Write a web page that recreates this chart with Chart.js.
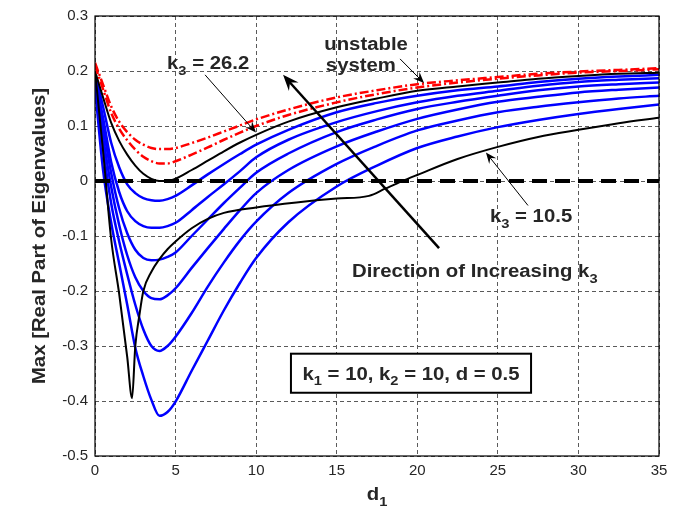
<!DOCTYPE html>
<html>
<head>
<meta charset="utf-8">
<script src="https://cdn.jsdelivr.net/npm/chart.js@4.4.0/dist/chart.umd.min.js"></script>
<style>
  html, body { margin: 0; padding: 0; background: #fff; }
  #wrap { width: 680px; height: 512px; }
</style>
</head>
<body>
<div id="wrap"><canvas id="c"></canvas></div>
<script>
// d1 sample points shared by the k3 sweep curves
const d1 = [0, 0.5, 1, 1.5, 2, 2.5, 3, 3.5, 4, 4.5, 5, 6, 7, 8, 9, 10, 12, 15, 17.5, 20, 22.5, 25, 27.5, 30, 32.5, 35];

// unstable system (red, dash-dot)
const unstableA = [0.215, 0.175, 0.136, 0.108, 0.089, 0.075, 0.066, 0.060, 0.058, 0.058, 0.060, 0.069, 0.079, 0.090, 0.101, 0.112, 0.130, 0.152, 0.165, 0.176, 0.183, 0.189, 0.195, 0.199, 0.202, 0.205];
const unstableB = [0.210, 0.167, 0.124, 0.095, 0.074, 0.057, 0.044, 0.036, 0.032, 0.032, 0.036, 0.048, 0.061, 0.075, 0.088, 0.100, 0.120, 0.143, 0.158, 0.170, 0.179, 0.186, 0.192, 0.197, 0.200, 0.203];

// k3 = 26.2 (black, marginal)
const k3High = [0.200, 0.152, 0.106, 0.073, 0.048, 0.028, 0.013, 0.004, 0.000, 0.000, 0.004, 0.020, 0.037, 0.054, 0.070, 0.084, 0.108, 0.134, 0.150, 0.164, 0.172, 0.179, 0.186, 0.191, 0.195, 0.197];

// intermediate k3 values (blue), top to bottom
const blue1 = [0.195, 0.135, 0.070, 0.025, -0.006, -0.022, -0.031, -0.035, -0.036, -0.033, -0.027, -0.008, 0.012, 0.031, 0.049, 0.066, 0.093, 0.125, 0.142, 0.155, 0.165, 0.172, 0.180, 0.186, 0.190, 0.193];
const blue2 = [0.190, 0.115, 0.035, -0.020, -0.055, -0.073, -0.082, -0.085, -0.085, -0.082, -0.076, -0.053, -0.029, -0.006, 0.018, 0.043, 0.075, 0.107, 0.127, 0.143, 0.155, 0.164, 0.173, 0.180, 0.184, 0.187];
const blue3 = [0.185, 0.100, 0.015, -0.050, -0.095, -0.125, -0.140, -0.144, -0.143, -0.138, -0.130, -0.100, -0.070, -0.040, -0.012, 0.015, 0.050, 0.089, 0.112, 0.131, 0.144, 0.155, 0.165, 0.172, 0.176, 0.179];
const blue4 = [0.180, 0.080, -0.010, -0.080, -0.135, -0.175, -0.200, -0.213, -0.215, -0.208, -0.195, -0.158, -0.122, -0.087, -0.053, -0.022, 0.020, 0.063, 0.090, 0.113, 0.130, 0.144, 0.153, 0.161, 0.166, 0.170];
const blue5 = [0.175, 0.060, -0.040, -0.110, -0.170, -0.225, -0.270, -0.300, -0.309, -0.300, -0.283, -0.240, -0.192, -0.148, -0.108, -0.074, -0.022, 0.031, 0.064, 0.092, 0.110, 0.125, 0.135, 0.143, 0.150, 0.155];
const blue6 = [0.170, 0.020, -0.075, -0.150, -0.225, -0.303, -0.355, -0.398, -0.427, -0.420, -0.401, -0.345, -0.290, -0.235, -0.185, -0.140, -0.075, -0.010, 0.028, 0.060, 0.081, 0.098, 0.111, 0.122, 0.131, 0.139];

// k3 = 10.5 (black), has its own d1 grid because of the sharp dip and the kink
const d1Low = [0, 0.5, 1, 1.5, 2, 2.3, 2.5, 2.75, 3, 3.5, 4, 4.5, 5, 6, 7, 8, 10, 12.5, 15, 17, 18, 19, 20, 22.5, 25, 27.5, 30, 32.5, 35];
const k3Low = [0.200, 0.055, -0.105, -0.205, -0.320, -0.395, -0.300, -0.245, -0.200, -0.165, -0.142, -0.124, -0.110, -0.086, -0.069, -0.058, -0.048, -0.039, -0.032, -0.027, -0.014, -0.001, 0.011, 0.040, 0.062, 0.080, 0.093, 0.105, 0.115];

// stability boundary
const zeroX = [0, 35];
const zeroY = [0, 0];

const xTickValues = [0, 5, 10, 15, 20, 25, 30, 35];
const yTickValues = [-0.5, -0.4, -0.3, -0.2, -0.1, 0, 0.1, 0.2, 0.3];

const FONT = '"Liberation Sans", Arial, Helvetica, sans-serif';
const STRETCH = 1.13;

function pts(xs, ys) {
  return xs.map((x, i) => ({ x: x, y: ys[i] }));
}

function curve(xs, ys, color, width, dash) {
  return {
    data: pts(xs, ys),
    borderColor: color,
    borderWidth: width,
    borderDash: dash || [],
    pointRadius: 0,
    fill: false
  };
}

// text runs: [text, isSubscript]
function drawRich(ctx, parts, x, y, align, size, angle) {
  const main = 'bold ' + size + 'px ' + FONT;
  const sub = 'bold ' + Math.round(size * 0.7) + 'px ' + FONT;
  let w = 0;
  parts.forEach(p => { ctx.font = p[1] ? sub : main; w += ctx.measureText(p[0]).width; });
  ctx.save();
  ctx.translate(x, y);
  if (angle) ctx.rotate(angle);
  ctx.scale(STRETCH, 1);
  ctx.textAlign = 'left';
  ctx.textBaseline = 'alphabetic';
  ctx.fillStyle = '#262626';
  let cx = align === 'center' ? -w / 2 : 0;
  parts.forEach(p => {
    ctx.font = p[1] ? sub : main;
    ctx.fillText(p[0], cx, p[1] ? size * 0.33 : 0);
    cx += ctx.measureText(p[0]).width;
  });
  ctx.restore();
}

function arrow(ctx, x1, y1, x2, y2, lw, hl, hw) {
  const a = Math.atan2(y2 - y1, x2 - x1);
  const c = Math.cos(a), s = Math.sin(a);
  ctx.save();
  ctx.strokeStyle = '#000';
  ctx.fillStyle = '#000';
  ctx.lineWidth = lw;
  ctx.beginPath();
  ctx.moveTo(x1, y1);
  ctx.lineTo(x2 - c * hl * 0.6, y2 - s * hl * 0.6);
  ctx.stroke();
  ctx.beginPath();
  ctx.moveTo(x2, y2);
  ctx.lineTo(x2 - c * hl - s * hw / 2, y2 - s * hl + c * hw / 2);
  ctx.lineTo(x2 - c * hl * 0.65, y2 - s * hl * 0.65);
  ctx.lineTo(x2 - c * hl + s * hw / 2, y2 - s * hl - c * hw / 2);
  ctx.closePath();
  ctx.fill();
  ctx.restore();
}

const overlay = {
  id: 'overlay',
  afterDraw(chart) {
    const ctx = chart.ctx;
    const xs = chart.scales.x, ys = chart.scales.y;
    const area = chart.chartArea;
    const px = v => xs.getPixelForValue(v);
    const py = v => ys.getPixelForValue(v);

    // axes box
    ctx.save();
    ctx.strokeStyle = '#000';
    ctx.lineWidth = 1.2;
    ctx.strokeRect(area.left, area.top, area.right - area.left, area.bottom - area.top);
    ctx.restore();

    // axis titles
    drawRich(ctx, [['Max [Real Part of Eigenvalues]', false]], 45, (area.top + area.bottom) / 2, 'center', 18, -Math.PI / 2);
    drawRich(ctx, [['d', false], ['1', true]], (area.left + area.right) / 2, 500, 'center', 18);

    // labels and pointers
    drawRich(ctx, [['k', false], ['3', true], [' = 26.2', false]], px(4.47), py(0.203), 'left', 18);
    arrow(ctx, px(6.83), py(0.193), px(9.99), py(0.088), 1, 11, 9);

    drawRich(ctx, [['unstable', false]], px(16.82), py(0.238), 'center', 18);
    drawRich(ctx, [['system', false]], px(16.5), py(0.200), 'center', 18);
    arrow(ctx, px(18.93), py(0.222), px(20.42), py(0.178), 1, 11, 9);

    drawRich(ctx, [['k', false], ['3', true], [' = 10.5', false]], px(24.51), py(-0.0753), 'left', 18);
    arrow(ctx, px(26.87), py(-0.0445), px(24.26), py(0.0518), 1, 11, 9);

    arrow(ctx, px(21.35), py(-0.122), px(11.67), py(0.193), 2.5, 16, 13);
    drawRich(ctx, [['Direction of Increasing k', false], ['3', true]], px(15.95), py(-0.174), 'left', 18);

    // parameter box
    const bx1 = px(12.16), bx2 = px(27.06), by1 = py(-0.314), by2 = py(-0.385);
    ctx.save();
    ctx.fillStyle = '#fff';
    ctx.fillRect(bx1, by1, bx2 - bx1, by2 - by1);
    ctx.strokeStyle = '#000';
    ctx.lineWidth = 2;
    ctx.strokeRect(bx1, by1, bx2 - bx1, by2 - by1);
    ctx.restore();
    drawRich(ctx, [['k', false], ['1', true], [' = 10, k', false], ['2', true], [' = 10, d = 0.5', false]],
      (bx1 + bx2) / 2, py(-0.361), 'center', 18);
  }
};

const gridStyle = { color: '#5a5a5a', lineWidth: 1, drawTicks: false };
const tickStyle = { color: '#262626', font: { family: FONT, size: 15 } };

new Chart(document.getElementById('c'), {
  type: 'line',
  data: {
    datasets: [
      curve(zeroX, zeroY, '#000', 4, [15, 8]),
      curve(d1, unstableA, '#ff0000', 2.5, [9, 3, 2, 3]),
      curve(d1, unstableB, '#ff0000', 2.5, [9, 3, 2, 3]),
      curve(d1, k3High, '#000', 2),
      curve(d1Low, k3Low, '#000', 2),
      curve(d1, blue1, '#0000ff', 2.5),
      curve(d1, blue2, '#0000ff', 2.5),
      curve(d1, blue3, '#0000ff', 2.5),
      curve(d1, blue4, '#0000ff', 2.5),
      curve(d1, blue5, '#0000ff', 2.5),
      curve(d1, blue6, '#0000ff', 2.5)
    ]
  },
  options: {
    responsive: true,
    maintainAspectRatio: false,
    animation: false,
    events: [],
    layout: { padding: { top: 14, right: 21, left: 0, bottom: 0 } },
    elements: { line: { cubicInterpolationMode: 'monotone' } },
    plugins: { legend: { display: false }, tooltip: { enabled: false } },
    scales: {
      x: {
        type: 'linear',
        min: 0,
        max: 35,
        afterBuildTicks: s => { s.ticks = xTickValues.map(v => ({ value: v })); },
        afterFit: s => { s.height = 56; },
        ticks: Object.assign({ padding: 6, maxRotation: 0, callback: v => String(v) }, tickStyle),
        grid: gridStyle,
        border: { display: false, dash: [4, 3] }
      },
      y: {
        type: 'linear',
        min: -0.5,
        max: 0.3,
        afterBuildTicks: s => { s.ticks = yTickValues.map(v => ({ value: v })); },
        afterFit: s => { s.width = 95; },
        ticks: Object.assign({ padding: 7, callback: v => String(Math.round(v * 10) / 10) }, tickStyle),
        grid: gridStyle,
        border: { display: false, dash: [4, 3] }
      }
    }
  },
  plugins: [overlay]
});
</script>
</body>
</html>
